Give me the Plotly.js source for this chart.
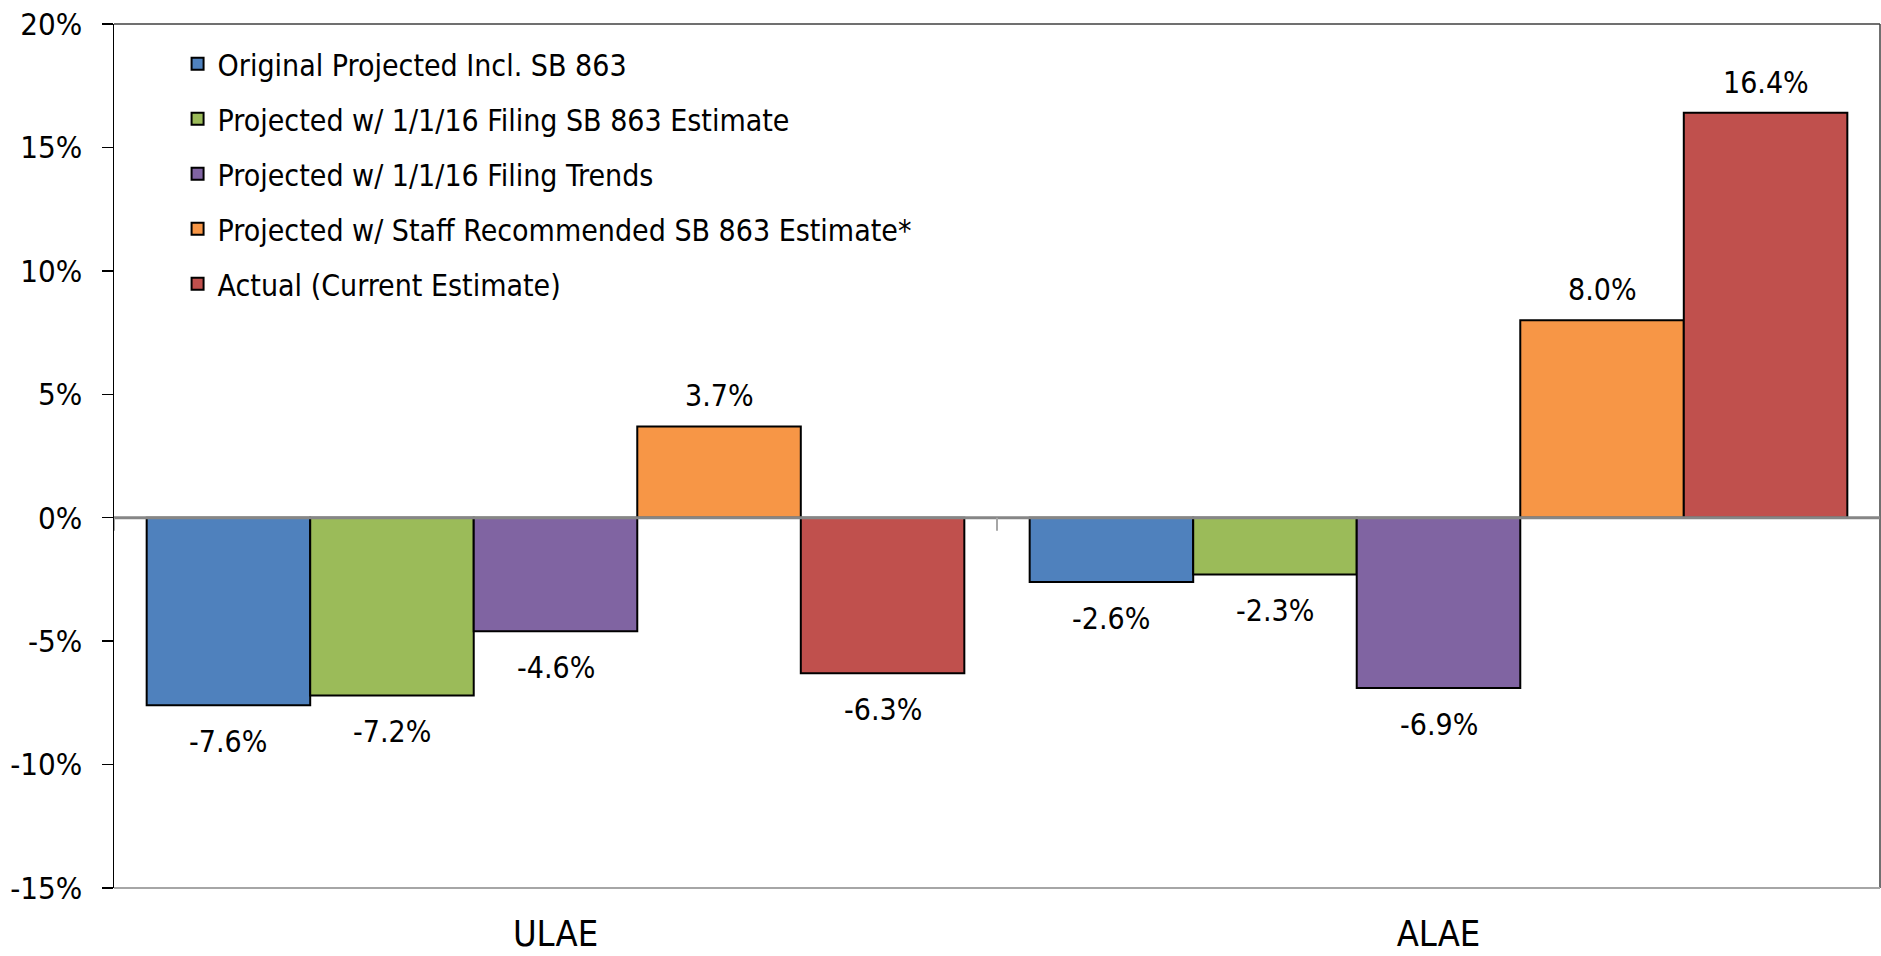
<!DOCTYPE html>
<html>
<head>
<meta charset="utf-8">
<script src="https://cdn.plot.ly/plotly-3.0.1.min.js"></script>
<style>html,body{margin:0;padding:0;background:#fff;}#chart{width:1881px;height:956px;}</style>
</head>
<body>
<div id="chart"></div>
<script>
const categories = ["ULAE", "ALAE"];
const seriesNames = [
  "Original Projected Incl. SB 863",
  "Projected w/ 1/1/16 Filing SB 863 Estimate",
  "Projected w/ 1/1/16 Filing Trends",
  "Projected w/ Staff Recommended SB 863 Estimate*",
  "Actual (Current Estimate)"
];
const originalProjected = [-7.6, -2.6];
const filingSB863 = [-7.2, -2.3];
const filingTrends = [-4.6, -6.9];
const staffRecommended = [3.7, 8.0];
const actualCurrent = [-6.3, 16.4];
const seriesValues = [originalProjected, filingSB863, filingTrends, staffRecommended, actualCurrent];
const yTickVals = [-15, -10, -5, 0, 5, 10, 15, 20];
const yTickText = ["-15%", "-10%", "-5%", "0%", "5%", "10%", "15%", "20%"];

const colors = ["#4F81BD", "#9BBB59", "#8064A2", "#F79646", "#C0504D"];
const FONT = "'Liberation Sans Narrow', 'Arial Narrow', 'DejaVu Sans Condensed', sans-serif";

const W = 1881, H = 956;
const M = {l: 114, r: 1, t: 24, b: 68};
const bargap = 0.074;
const plotW = W - M.l - M.r;
const barPx = (plotW / categories.length) * (1 - bargap) / seriesValues.length;

const traces = seriesValues.map((vals, i) => ({
  type: "bar",
  name: seriesNames[i],
  x: categories,
  y: vals,
  marker: {color: colors[i], line: {color: "#000", width: 2}},
  hoverinfo: "skip",
  legendgroup: "g" + i
}));

const annotations = [];
seriesValues.forEach((vals, i) => {
  vals.forEach((v, j) => {
    annotations.push({
      x: categories[j], y: v, xref: "x", yref: "y",
      text: v.toFixed(1) + "%",
      showarrow: false,
      xshift: (i - (seriesValues.length - 1) / 2) * barPx,
      yanchor: v >= 0 ? "bottom" : "top",
      yshift: v >= 0 ? 11 : -17,
      font: {family: FONT, size: 30, color: "#000"}
    });
  });
});

const shapes = [
  {type: "line", xref: "paper", yref: "paper", x0: 0, x1: 1, y0: 1, y1: 1, line: {color: "#404040", width: 1.5}},
  {type: "line", xref: "paper", yref: "paper", x0: 1, x1: 1, y0: 0, y1: 1, line: {color: "#404040", width: 1.5}},
  {type: "line", xref: "paper", yref: "paper", x0: 0, x1: 1, y0: 0, y1: 0, line: {color: "#A6A6A6", width: 2}},
  {type: "line", xref: "paper", yref: "y", x0: 0, x1: 1, y0: 0, y1: 0, line: {color: "#868686", width: 3}, layer: "above"},
  {type: "line", xref: "x", yref: "y", ysizemode: "pixel", yanchor: 0, x0: 0.5, x1: 0.5, y0: 0, y1: -13, line: {color: "#A6A6A6", width: 2}, layer: "above"},
  {type: "line", xref: "x", yref: "y", ysizemode: "pixel", yanchor: 0, x0: -0.5, x1: -0.5, y0: 0, y1: -13, line: {color: "#A6A6A6", width: 2}, layer: "above"}
];

const layout = {
  width: W, height: H,
  margin: M,
  paper_bgcolor: "#fff", plot_bgcolor: "#fff",
  font: {family: FONT, color: "#000"},
  barmode: "group",
  bargap: bargap,
  bargroupgap: 0,
  showlegend: true,
  legend: {
    x: 0.036, y: 0.984, xanchor: "left", yanchor: "top",
    font: {family: FONT, size: 30, color: "#000"},
    bgcolor: "rgba(0,0,0,0)",
    traceorder: "grouped",
    tracegroupgap: 13
  },
  xaxis: {
    type: "category",
    categoryarray: categories,
    range: [-0.5, 1.5],
    showline: false, showgrid: false, zeroline: false,
    ticks: "",
    tickfont: {family: FONT, size: 36, color: "#000"},
    ticklabelstandoff: 21,
    fixedrange: true
  },
  yaxis: {
    range: [-15, 20],
    tickvals: yTickVals,
    ticktext: yTickText,
    showgrid: false, zeroline: false,
    showline: true, linecolor: "#000", linewidth: 1.5,
    ticks: "outside", ticklen: 11, tickcolor: "#000", tickwidth: 1.5,
    tickfont: {family: FONT, size: 31, color: "#000"},
    ticklabelstandoff: 13,
    fixedrange: true
  },
  shapes: shapes,
  annotations: annotations
};

Plotly.newPlot("chart", traces, layout, {displayModeBar: false, staticPlot: true});
</script>
</body>
</html>
